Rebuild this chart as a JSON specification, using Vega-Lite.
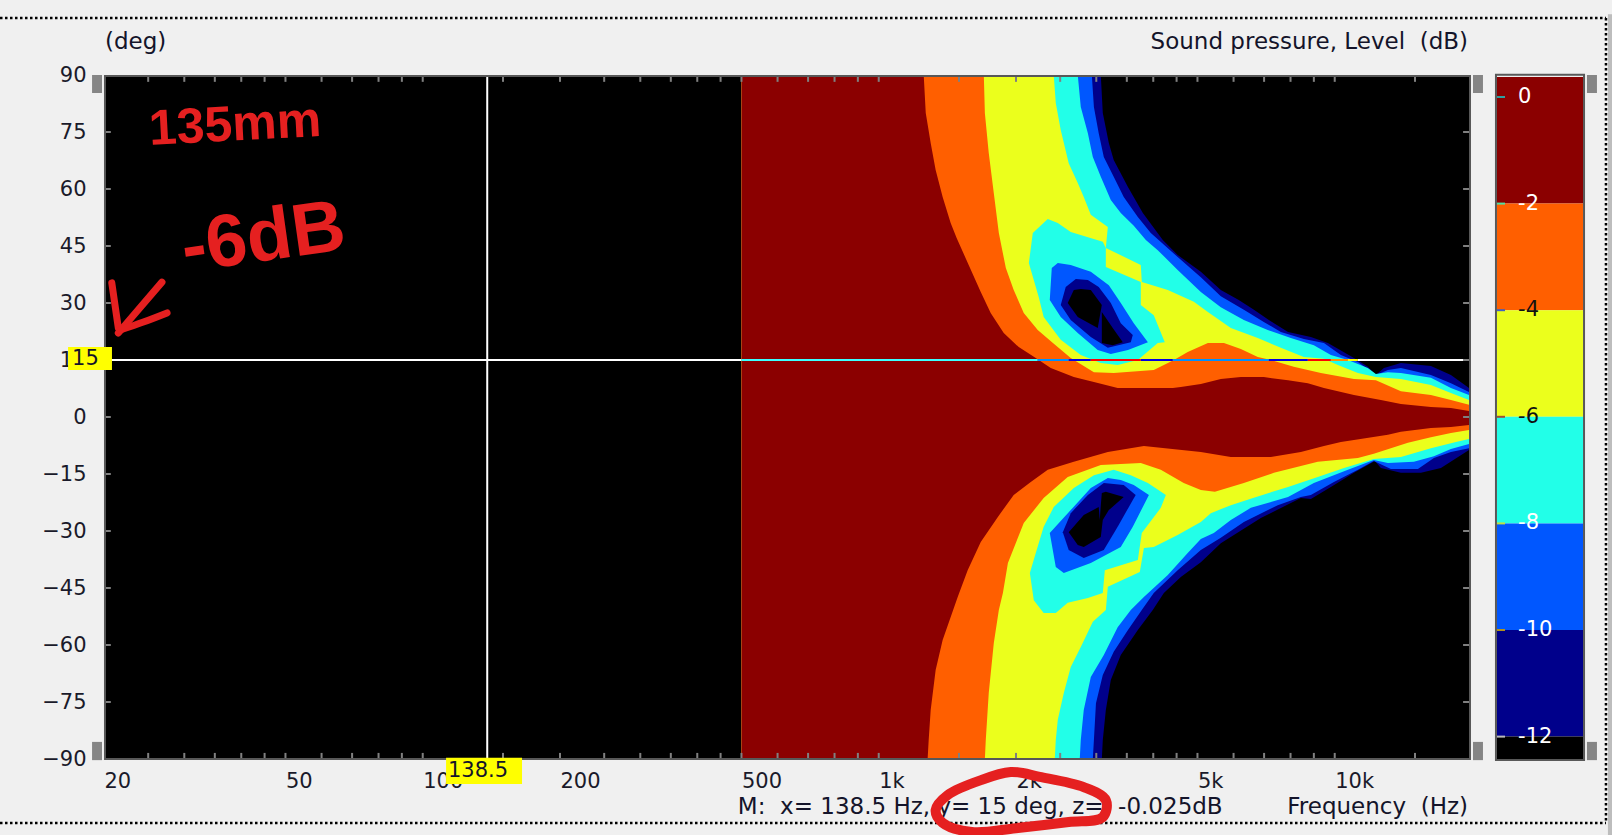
{"$schema":"https://vega.github.io/schema/vega-lite/v6.json","width":1365,"height":684,"padding":{"left":104,"top":75,"right":143,"bottom":76},"autosize":{"type":"none"},"background":"#f0f0f0","config":{"view":{"stroke":null},"font":"DejaVu Sans"},
"datasets":{
"poly":[
{"p":"navy","l":-12,"f":500,"d":90},{"p":"navy","l":-12,"f":3069,"d":90},{"p":"navy","l":-12,"f":3100,"d":80},{"p":"navy","l":-12,"f":3196,"d":72.1},{"p":"navy","l":-12,"f":3276,"d":67.6},{"p":"navy","l":-12,"f":3520,"d":60.5},{"p":"navy","l":-12,"f":3795,"d":53.7},{"p":"navy","l":-12,"f":4197,"d":46.6},{"p":"navy","l":-12,"f":4525,"d":42.6},{"p":"navy","l":-12,"f":5086,"d":38.2},{"p":"navy","l":-12,"f":5626,"d":33.4},{"p":"navy","l":-12,"f":6160,"d":30.8},{"p":"navy","l":-12,"f":6650,"d":28.2},{"p":"navy","l":-12,"f":7170,"d":25.5},{"p":"navy","l":-12,"f":7900,"d":22.4},{"p":"navy","l":-12,"f":8865,"d":21.05},{"p":"navy","l":-12,"f":9660,"d":19.5},{"p":"navy","l":-12,"f":11020,"d":15.5},{"p":"navy","l":-12,"f":11820,"d":13.2},{"p":"navy","l":-12,"f":12310,"d":11.05},{"p":"navy","l":-12,"f":12820,"d":12.9},{"p":"navy","l":-12,"f":13967,"d":14.2},{"p":"navy","l":-12,"f":16253,"d":13.4},{"p":"navy","l":-12,"f":17981,"d":11.05},{"p":"navy","l":-12,"f":19700,"d":7.6},{"p":"navy","l":-12,"f":19700,"d":-8.7},{"p":"navy","l":-12,"f":17095,"d":-13.4},{"p":"navy","l":-12,"f":15452,"d":-14.7},{"p":"navy","l":-12,"f":13967,"d":-14.7},{"p":"navy","l":-12,"f":12625,"d":-13.4},{"p":"navy","l":-12,"f":12250,"d":-11.6},{"p":"navy","l":-12,"f":11020,"d":-14.7},{"p":"navy","l":-12,"f":9807,"d":-18.4},{"p":"navy","l":-12,"f":8865,"d":-21.6},{"p":"navy","l":-12,"f":8428,"d":-21.3},{"p":"navy","l":-12,"f":6886,"d":-26.6},{"p":"navy","l":-12,"f":5626,"d":-33.2},{"p":"navy","l":-12,"f":5086,"d":-38.2},{"p":"navy","l":-12,"f":4597,"d":-42.1},{"p":"navy","l":-12,"f":4220,"d":-46.3},{"p":"navy","l":-12,"f":3990,"d":-50.8},{"p":"navy","l":-12,"f":3700,"d":-56.05},{"p":"navy","l":-12,"f":3395,"d":-62.6},{"p":"navy","l":-12,"f":3228,"d":-69.2},{"p":"navy","l":-12,"f":3148,"d":-77.1},{"p":"navy","l":-12,"f":3100,"d":-85},{"p":"navy","l":-12,"f":3085,"d":-90},{"p":"navy","l":-12,"f":500,"d":-90},
{"p":"blue","l":-10,"f":500,"d":90},{"p":"blue","l":-10,"f":2933,"d":90},{"p":"blue","l":-10,"f":2964,"d":81.6},{"p":"blue","l":-10,"f":3037,"d":74.7},{"p":"blue","l":-10,"f":3116,"d":68.4},{"p":"blue","l":-10,"f":3276,"d":63.2},{"p":"blue","l":-10,"f":3446,"d":57.9},{"p":"blue","l":-10,"f":3700,"d":52.6},{"p":"blue","l":-10,"f":3951,"d":48.4},{"p":"blue","l":-10,"f":4525,"d":42.1},{"p":"blue","l":-10,"f":5086,"d":36.8},{"p":"blue","l":-10,"f":5626,"d":31.8},{"p":"blue","l":-10,"f":6320,"d":28.2},{"p":"blue","l":-10,"f":6990,"d":25},{"p":"blue","l":-10,"f":7618,"d":22.4},{"p":"blue","l":-10,"f":8560,"d":20.5},{"p":"blue","l":-10,"f":9470,"d":19.5},{"p":"blue","l":-10,"f":10315,"d":16.3},{"p":"blue","l":-10,"f":11240,"d":14.5},{"p":"blue","l":-10,"f":12310,"d":11.05},{"p":"blue","l":-10,"f":13080,"d":12.4},{"p":"blue","l":-10,"f":13967,"d":12.9},{"p":"blue","l":-10,"f":16253,"d":11.05},{"p":"blue","l":-10,"f":17981,"d":8.9},{"p":"blue","l":-10,"f":19700,"d":6.6},{"p":"blue","l":-10,"f":19700,"d":-8.2},{"p":"blue","l":-10,"f":17981,"d":-9.2},{"p":"blue","l":-10,"f":16500,"d":-10.8},{"p":"blue","l":-10,"f":15220,"d":-13.7},{"p":"blue","l":-10,"f":13279,"d":-13.7},{"p":"blue","l":-10,"f":12180,"d":-11.6},{"p":"blue","l":-10,"f":11240,"d":-13.9},{"p":"blue","l":-10,"f":9960,"d":-17.1},{"p":"blue","l":-10,"f":8865,"d":-20.5},{"p":"blue","l":-10,"f":8428,"d":-21.05},{"p":"blue","l":-10,"f":7500,"d":-23.2},{"p":"blue","l":-10,"f":6320,"d":-27.6},{"p":"blue","l":-10,"f":5626,"d":-31.8},{"p":"blue","l":-10,"f":5086,"d":-35},{"p":"blue","l":-10,"f":4525,"d":-40.3},{"p":"blue","l":-10,"f":4010,"d":-46.3},{"p":"blue","l":-10,"f":3775,"d":-50.8},{"p":"blue","l":-10,"f":3520,"d":-56.05},{"p":"blue","l":-10,"f":3276,"d":-61.8},{"p":"blue","l":-10,"f":3100,"d":-67.9},{"p":"blue","l":-10,"f":2995,"d":-75.3},{"p":"blue","l":-10,"f":2964,"d":-85},{"p":"blue","l":-10,"f":2948,"d":-90},{"p":"blue","l":-10,"f":500,"d":-90},
{"p":"cyan","l":-8,"f":500,"d":90},{"p":"cyan","l":-8,"f":2732,"d":90},{"p":"cyan","l":-8,"f":2774,"d":81.6},{"p":"cyan","l":-8,"f":2875,"d":74.7},{"p":"cyan","l":-8,"f":2948,"d":68.4},{"p":"cyan","l":-8,"f":3069,"d":63.2},{"p":"cyan","l":-8,"f":3228,"d":57.1},{"p":"cyan","l":-8,"f":3395,"d":53.7},{"p":"cyan","l":-8,"f":3625,"d":50.3},{"p":"cyan","l":-8,"f":3853,"d":46.6},{"p":"cyan","l":-8,"f":4092,"d":43.9},{"p":"cyan","l":-8,"f":4525,"d":38.7},{"p":"cyan","l":-8,"f":5086,"d":32.9},{"p":"cyan","l":-8,"f":5626,"d":28.9},{"p":"cyan","l":-8,"f":6320,"d":25.5},{"p":"cyan","l":-8,"f":7130,"d":22.9},{"p":"cyan","l":-8,"f":8013,"d":20.8},{"p":"cyan","l":-8,"f":9000,"d":18.9},{"p":"cyan","l":-8,"f":9807,"d":16.3},{"p":"cyan","l":-8,"f":10690,"d":15},{"p":"cyan","l":-8,"f":11820,"d":12.9},{"p":"cyan","l":-8,"f":12310,"d":11.3},{"p":"cyan","l":-8,"f":13080,"d":11.8},{"p":"cyan","l":-8,"f":13967,"d":11.6},{"p":"cyan","l":-8,"f":16253,"d":10.3},{"p":"cyan","l":-8,"f":17981,"d":7.6},{"p":"cyan","l":-8,"f":19700,"d":5.8},{"p":"cyan","l":-8,"f":19700,"d":-7.1},{"p":"cyan","l":-8,"f":17981,"d":-8.4},{"p":"cyan","l":-8,"f":16500,"d":-10.3},{"p":"cyan","l":-8,"f":14910,"d":-11.8},{"p":"cyan","l":-8,"f":13080,"d":-12.1},{"p":"cyan","l":-8,"f":12180,"d":-11.3},{"p":"cyan","l":-8,"f":10690,"d":-13.9},{"p":"cyan","l":-8,"f":9000,"d":-17.4},{"p":"cyan","l":-8,"f":7900,"d":-21.05},{"p":"cyan","l":-8,"f":6547,"d":-23.9},{"p":"cyan","l":-8,"f":5918,"d":-27.1},{"p":"cyan","l":-8,"f":5430,"d":-30.5},{"p":"cyan","l":-8,"f":5086,"d":-32.1},{"p":"cyan","l":-8,"f":4760,"d":-35.8},{"p":"cyan","l":-8,"f":4305,"d":-41.6},{"p":"cyan","l":-8,"f":3815,"d":-47.4},{"p":"cyan","l":-8,"f":3571,"d":-50.8},{"p":"cyan","l":-8,"f":3342,"d":-55.3},{"p":"cyan","l":-8,"f":3116,"d":-62.6},{"p":"cyan","l":-8,"f":2918,"d":-68.4},{"p":"cyan","l":-8,"f":2816,"d":-77.1},{"p":"cyan","l":-8,"f":2774,"d":-85},{"p":"cyan","l":-8,"f":2760,"d":-90},{"p":"cyan","l":-8,"f":500,"d":-90},
{"p":"yellow","l":-6,"f":500,"d":90},{"p":"yellow","l":-6,"f":2420,"d":90},{"p":"yellow","l":-6,"f":2445,"d":82.6},{"p":"yellow","l":-6,"f":2507,"d":75.5},{"p":"yellow","l":-6,"f":2610,"d":66.8},{"p":"yellow","l":-6,"f":2732,"d":61.6},{"p":"yellow","l":-6,"f":2816,"d":57.9},{"p":"yellow","l":-6,"f":2918,"d":53.2},{"p":"yellow","l":-6,"f":3180,"d":50},{"p":"yellow","l":-6,"f":3148,"d":44.5},{"p":"yellow","l":-6,"f":3756,"d":40},{"p":"yellow","l":-6,"f":3775,"d":35.5},{"p":"yellow","l":-6,"f":4305,"d":33.4},{"p":"yellow","l":-6,"f":4910,"d":30.3},{"p":"yellow","l":-6,"f":5270,"d":27.6},{"p":"yellow","l":-6,"f":5918,"d":23.4},{"p":"yellow","l":-6,"f":6780,"d":20.8},{"p":"yellow","l":-6,"f":7618,"d":18.2},{"p":"yellow","l":-6,"f":8560,"d":15.8},{"p":"yellow","l":-6,"f":9470,"d":15.3},{"p":"yellow","l":-6,"f":10160,"d":13.7},{"p":"yellow","l":-6,"f":11240,"d":11.6},{"p":"yellow","l":-6,"f":12310,"d":10.5},{"p":"yellow","l":-6,"f":13967,"d":10},{"p":"yellow","l":-6,"f":16253,"d":8.4},{"p":"yellow","l":-6,"f":17981,"d":6.3},{"p":"yellow","l":-6,"f":19700,"d":4.5},{"p":"yellow","l":-6,"f":19700,"d":-5.8},{"p":"yellow","l":-6,"f":18440,"d":-6.6},{"p":"yellow","l":-6,"f":16253,"d":-8.2},{"p":"yellow","l":-6,"f":13967,"d":-10.5},{"p":"yellow","l":-6,"f":12180,"d":-11.05},{"p":"yellow","l":-6,"f":10480,"d":-13.4},{"p":"yellow","l":-6,"f":9180,"d":-15.8},{"p":"yellow","l":-6,"f":7900,"d":-18.4},{"p":"yellow","l":-6,"f":6620,"d":-21.3},{"p":"yellow","l":-6,"f":5918,"d":-23.2},{"p":"yellow","l":-6,"f":5349,"d":-25.3},{"p":"yellow","l":-6,"f":5086,"d":-27.6},{"p":"yellow","l":-6,"f":4525,"d":-31.05},{"p":"yellow","l":-6,"f":4010,"d":-34.2},{"p":"yellow","l":-6,"f":3815,"d":-34.5},{"p":"yellow","l":-6,"f":3737,"d":-40.8},{"p":"yellow","l":-6,"f":3180,"d":-44.7},{"p":"yellow","l":-6,"f":3148,"d":-50.8},{"p":"yellow","l":-6,"f":2948,"d":-53.9},{"p":"yellow","l":-6,"f":2774,"d":-60.5},{"p":"yellow","l":-6,"f":2637,"d":-65.8},{"p":"yellow","l":-6,"f":2546,"d":-72.6},{"p":"yellow","l":-6,"f":2470,"d":-79.7},{"p":"yellow","l":-6,"f":2445,"d":-85},{"p":"yellow","l":-6,"f":2433,"d":-90},{"p":"yellow","l":-6,"f":500,"d":-90},
{"p":"orange","l":-4,"f":500,"d":90},{"p":"orange","l":-4,"f":1700,"d":90},{"p":"orange","l":-4,"f":1709,"d":80},{"p":"orange","l":-4,"f":1743,"d":69.5},{"p":"orange","l":-4,"f":1788,"d":58.9},{"p":"orange","l":-4,"f":1834,"d":48.4},{"p":"orange","l":-4,"f":1900,"d":39.2},{"p":"orange","l":-4,"f":1977,"d":33.4},{"p":"orange","l":-4,"f":2080,"d":27.4},{"p":"orange","l":-4,"f":2232,"d":22.9},{"p":"orange","l":-4,"f":2410,"d":19.5},{"p":"orange","l":-4,"f":2637,"d":15.5},{"p":"orange","l":-4,"f":2964,"d":11.8},{"p":"orange","l":-4,"f":3276,"d":11.6},{"p":"orange","l":-4,"f":4010,"d":12.4},{"p":"orange","l":-4,"f":4440,"d":15},{"p":"orange","l":-4,"f":4760,"d":17.1},{"p":"orange","l":-4,"f":5270,"d":19.5},{"p":"orange","l":-4,"f":5715,"d":19.5},{"p":"orange","l":-4,"f":6225,"d":17.9},{"p":"orange","l":-4,"f":6780,"d":15.8},{"p":"orange","l":-4,"f":7243,"d":15},{"p":"orange","l":-4,"f":8130,"d":13.2},{"p":"orange","l":-4,"f":9324,"d":11.6},{"p":"orange","l":-4,"f":11020,"d":10},{"p":"orange","l":-4,"f":12310,"d":9.7},{"p":"orange","l":-4,"f":13967,"d":6.8},{"p":"orange","l":-4,"f":16253,"d":5.8},{"p":"orange","l":-4,"f":17981,"d":4.5},{"p":"orange","l":-4,"f":19700,"d":3.2},{"p":"orange","l":-4,"f":19700,"d":-3.4},{"p":"orange","l":-4,"f":17981,"d":-4.2},{"p":"orange","l":-4,"f":16253,"d":-5.3},{"p":"orange","l":-4,"f":14470,"d":-6.8},{"p":"orange","l":-4,"f":12180,"d":-9.7},{"p":"orange","l":-4,"f":11240,"d":-10.8},{"p":"orange","l":-4,"f":9180,"d":-11.8},{"p":"orange","l":-4,"f":7355,"d":-14.7},{"p":"orange","l":-4,"f":6320,"d":-17.4},{"p":"orange","l":-4,"f":5460,"d":-19.7},{"p":"orange","l":-4,"f":5086,"d":-19.2},{"p":"orange","l":-4,"f":4665,"d":-17.4},{"p":"orange","l":-4,"f":4155,"d":-13.9},{"p":"orange","l":-4,"f":3756,"d":-12.1},{"p":"orange","l":-4,"f":3069,"d":-12.6},{"p":"orange","l":-4,"f":2597,"d":-15.8},{"p":"orange","l":-4,"f":2300,"d":-21.3},{"p":"orange","l":-4,"f":2080,"d":-27.9},{"p":"orange","l":-4,"f":1920,"d":-38.4},{"p":"orange","l":-4,"f":1872,"d":-46.3},{"p":"orange","l":-4,"f":1834,"d":-50.8},{"p":"orange","l":-4,"f":1788,"d":-59.5},{"p":"orange","l":-4,"f":1743,"d":-72.6},{"p":"orange","l":-4,"f":1717,"d":-85},{"p":"orange","l":-4,"f":1709,"d":-90},{"p":"orange","l":-4,"f":500,"d":-90},
{"p":"red","l":-2,"f":500,"d":90},{"p":"red","l":-2,"f":1255,"d":90},{"p":"red","l":-2,"f":1268,"d":80},{"p":"red","l":-2,"f":1300,"d":72.1},{"p":"red","l":-2,"f":1333,"d":65},{"p":"red","l":-2,"f":1381,"d":57.9},{"p":"red","l":-2,"f":1438,"d":51.05},{"p":"red","l":-2,"f":1482,"d":47.1},{"p":"red","l":-2,"f":1575,"d":40},{"p":"red","l":-2,"f":1674,"d":32.9},{"p":"red","l":-2,"f":1760,"d":27.4},{"p":"red","l":-2,"f":1880,"d":22.1},{"p":"red","l":-2,"f":2028,"d":18.4},{"p":"red","l":-2,"f":2210,"d":15.5},{"p":"red","l":-2,"f":2384,"d":12.9},{"p":"red","l":-2,"f":2678,"d":10.5},{"p":"red","l":-2,"f":2964,"d":9.2},{"p":"red","l":-2,"f":3342,"d":7.6},{"p":"red","l":-2,"f":4416,"d":7.6},{"p":"red","l":-2,"f":4597,"d":7.9},{"p":"red","l":-2,"f":5086,"d":8.7},{"p":"red","l":-2,"f":5626,"d":10},{"p":"red","l":-2,"f":6225,"d":10.5},{"p":"red","l":-2,"f":6990,"d":10.5},{"p":"red","l":-2,"f":7900,"d":9.7},{"p":"red","l":-2,"f":8730,"d":8.9},{"p":"red","l":-2,"f":9470,"d":7.6},{"p":"red","l":-2,"f":11020,"d":5.8},{"p":"red","l":-2,"f":12625,"d":4.5},{"p":"red","l":-2,"f":13967,"d":3.4},{"p":"red","l":-2,"f":16253,"d":2.6},{"p":"red","l":-2,"f":17981,"d":2.4},{"p":"red","l":-2,"f":19700,"d":1.6},{"p":"red","l":-2,"f":19700,"d":-2.1},{"p":"red","l":-2,"f":17981,"d":-2.6},{"p":"red","l":-2,"f":16253,"d":-2.9},{"p":"red","l":-2,"f":13967,"d":-3.9},{"p":"red","l":-2,"f":13080,"d":-4.7},{"p":"red","l":-2,"f":11020,"d":-6.05},{"p":"red","l":-2,"f":10315,"d":-6.6},{"p":"red","l":-2,"f":9470,"d":-7.6},{"p":"red","l":-2,"f":8428,"d":-9.2},{"p":"red","l":-2,"f":7243,"d":-10.5},{"p":"red","l":-2,"f":5918,"d":-10.5},{"p":"red","l":-2,"f":5086,"d":-9.2},{"p":"red","l":-2,"f":3815,"d":-7.6},{"p":"red","l":-2,"f":3180,"d":-9.2},{"p":"red","l":-2,"f":2678,"d":-11.8},{"p":"red","l":-2,"f":2348,"d":-13.9},{"p":"red","l":-2,"f":2155,"d":-17.1},{"p":"red","l":-2,"f":1977,"d":-20.5},{"p":"red","l":-2,"f":1825,"d":-26.3},{"p":"red","l":-2,"f":1674,"d":-32.9},{"p":"red","l":-2,"f":1567,"d":-40.3},{"p":"red","l":-2,"f":1490,"d":-47.4},{"p":"red","l":-2,"f":1381,"d":-58.7},{"p":"red","l":-2,"f":1333,"d":-66.6},{"p":"red","l":-2,"f":1300,"d":-77.1},{"p":"red","l":-2,"f":1287,"d":-85},{"p":"red","l":-2,"f":1280,"d":-90},{"p":"red","l":-2,"f":500,"d":-90},
{"p":"cyanU","l":-8,"f":2348,"d":52.1},{"p":"cyanU","l":-8,"f":2177,"d":48.4},{"p":"cyanU","l":-8,"f":2134,"d":40.5},{"p":"cyanU","l":-8,"f":2243,"d":31.6},{"p":"cyanU","l":-8,"f":2300,"d":26.3},{"p":"cyanU","l":-8,"f":2507,"d":20.3},{"p":"cyanU","l":-8,"f":2774,"d":16.3},{"p":"cyanU","l":-8,"f":3069,"d":14.2},{"p":"cyanU","l":-8,"f":3342,"d":13.7},{"p":"cyanU","l":-8,"f":3700,"d":15},{"p":"cyanU","l":-8,"f":4092,"d":19.5},{"p":"cyanU","l":-8,"f":4240,"d":19.7},{"p":"cyanU","l":-8,"f":4010,"d":26.8},{"p":"cyanU","l":-8,"f":3756,"d":29.5},{"p":"cyanU","l":-8,"f":3756,"d":35.5},{"p":"cyanU","l":-8,"f":3148,"d":39.5},{"p":"cyanU","l":-8,"f":3148,"d":44.5},{"p":"cyanU","l":-8,"f":3100,"d":46.1},{"p":"cyanU","l":-8,"f":2637,"d":48.7},{"p":"cyanU","l":-8,"f":2470,"d":51.05},
{"p":"blueU","l":-10,"f":2470,"d":40.5},{"p":"blueU","l":-10,"f":2396,"d":39.2},{"p":"blueU","l":-10,"f":2372,"d":30.8},{"p":"blueU","l":-10,"f":2507,"d":26.3},{"p":"blueU","l":-10,"f":2732,"d":22.1},{"p":"blueU","l":-10,"f":3022,"d":17.6},{"p":"blueU","l":-10,"f":3228,"d":16.6},{"p":"blueU","l":-10,"f":3520,"d":17.6},{"p":"blueU","l":-10,"f":3893,"d":19.7},{"p":"blueU","l":-10,"f":3625,"d":24.7},{"p":"blueU","l":-10,"f":3395,"d":30},{"p":"blueU","l":-10,"f":3196,"d":34.7},{"p":"blueU","l":-10,"f":2918,"d":38.2},{"p":"blueU","l":-10,"f":2637,"d":40},
{"p":"navyU","l":-12,"f":2705,"d":36.3},{"p":"navyU","l":-12,"f":2571,"d":34.2},{"p":"navyU","l":-12,"f":2507,"d":29.5},{"p":"navyU","l":-12,"f":2637,"d":25.5},{"p":"navyU","l":-12,"f":2918,"d":21.05},{"p":"navyU","l":-12,"f":3180,"d":18.2},{"p":"navyU","l":-12,"f":3571,"d":19.7},{"p":"navyU","l":-12,"f":3607,"d":21.6},{"p":"navyU","l":-12,"f":3395,"d":24.7},{"p":"navyU","l":-12,"f":3228,"d":30},{"p":"navyU","l":-12,"f":3037,"d":34.2},{"p":"navyU","l":-12,"f":2875,"d":36.05},
{"p":"blackUa","l":-14,"f":2678,"d":33.4},{"p":"blackUa","l":-14,"f":2597,"d":30},{"p":"blackUa","l":-14,"f":2732,"d":26.3},{"p":"blackUa","l":-14,"f":3022,"d":23.4},{"p":"blackUa","l":-14,"f":3085,"d":29.5},{"p":"blackUa","l":-14,"f":2918,"d":33.4},{"p":"blackUa","l":-14,"f":2774,"d":33.7},
{"p":"blackUb","l":-14,"f":3085,"d":27.6},{"p":"blackUb","l":-14,"f":3085,"d":19.5},{"p":"blackUb","l":-14,"f":3260,"d":18.9},{"p":"blackUb","l":-14,"f":3430,"d":19.7},{"p":"blackUb","l":-14,"f":3260,"d":23.4},
{"p":"cyanL","l":-8,"f":3276,"d":-13.9},{"p":"cyanL","l":-8,"f":2964,"d":-15.3},{"p":"cyanL","l":-8,"f":2678,"d":-18.7},{"p":"cyanL","l":-8,"f":2420,"d":-23.7},{"p":"cyanL","l":-8,"f":2300,"d":-28.9},{"p":"cyanL","l":-8,"f":2210,"d":-35.8},{"p":"cyanL","l":-8,"f":2145,"d":-41.05},{"p":"cyanL","l":-8,"f":2188,"d":-48.2},{"p":"cyanL","l":-8,"f":2300,"d":-51.6},{"p":"cyanL","l":-8,"f":2445,"d":-51.6},{"p":"cyanL","l":-8,"f":2597,"d":-48.9},{"p":"cyanL","l":-8,"f":2875,"d":-47.6},{"p":"cyanL","l":-8,"f":3100,"d":-46.3},{"p":"cyanL","l":-8,"f":3132,"d":-40.3},{"p":"cyanL","l":-8,"f":3700,"d":-37.6},{"p":"cyanL","l":-8,"f":3775,"d":-30.5},{"p":"cyanL","l":-8,"f":4155,"d":-23.9},{"p":"cyanL","l":-8,"f":4263,"d":-20.5},{"p":"cyanL","l":-8,"f":3893,"d":-17.4},{"p":"cyanL","l":-8,"f":3571,"d":-15.3},
{"p":"blueL","l":-10,"f":3180,"d":-16.05},{"p":"blueL","l":-10,"f":2918,"d":-18.7},{"p":"blueL","l":-10,"f":2637,"d":-24.5},{"p":"blueL","l":-10,"f":2372,"d":-30.5},{"p":"blueL","l":-10,"f":2445,"d":-39.5},{"p":"blueL","l":-10,"f":2546,"d":-41.05},{"p":"blueL","l":-10,"f":2918,"d":-38.4},{"p":"blueL","l":-10,"f":3395,"d":-34.2},{"p":"blueL","l":-10,"f":3607,"d":-28.9},{"p":"blueL","l":-10,"f":3913,"d":-20.5},{"p":"blueL","l":-10,"f":3625,"d":-17.9},{"p":"blueL","l":-10,"f":3395,"d":-16.6},
{"p":"navyL","l":-12,"f":3116,"d":-17.4},{"p":"navyL","l":-12,"f":2875,"d":-20.5},{"p":"navyL","l":-12,"f":2637,"d":-25.3},{"p":"navyL","l":-12,"f":2533,"d":-30.3},{"p":"navyL","l":-12,"f":2610,"d":-35},{"p":"navyL","l":-12,"f":2816,"d":-37.1},{"p":"navyL","l":-12,"f":3116,"d":-35},{"p":"navyL","l":-12,"f":3342,"d":-28.9},{"p":"navyL","l":-12,"f":3660,"d":-20.5},{"p":"navyL","l":-12,"f":3446,"d":-17.9},
{"p":"blackL","l":-14,"f":3085,"d":-20},{"p":"blackL","l":-14,"f":3148,"d":-19.7},{"p":"blackL","l":-14,"f":3446,"d":-21.05},{"p":"blackL","l":-14,"f":3196,"d":-24.5},{"p":"blackL","l":-14,"f":3100,"d":-27.1},{"p":"blackL","l":-14,"f":3069,"d":-31.6},{"p":"blackL","l":-14,"f":2816,"d":-34.2},{"p":"blackL","l":-14,"f":2732,"d":-33.7},{"p":"blackL","l":-14,"f":2610,"d":-30.3},{"p":"blackL","l":-14,"f":2816,"d":-25.8},{"p":"blackL","l":-14,"f":3037,"d":-23.7},{"p":"blackL","l":-14,"f":3053,"d":-27.1},{"p":"blackL","l":-14,"f":3069,"d":-23.2}
],
"cross":[{"seg":"white","a":20,"b":500},{"seg":"cyan","a":500,"b":2232},{"seg":"sky","a":2232,"b":2610},{"seg":"blue","a":2610,"b":2918},{"seg":"red","a":2918,"b":3756},{"seg":"blue","a":3756,"b":4416},{"seg":"sky","a":4416,"b":7170},{"seg":"blue","a":7170,"b":8730},{"seg":"red","a":8730,"b":9807},{"seg":"amber","a":9807,"b":10690},{"seg":"yellow","a":10690,"b":11240},{"seg":"white","a":11240,"b":19200}],
"xt":[{"f":25},{"f":30},{"f":35},{"f":40},{"f":45},{"f":50},{"f":60},{"f":70},{"f":80},{"f":90},{"f":100},{"f":150},{"f":200},{"f":250},{"f":300},{"f":350},{"f":400},{"f":450},{"f":500},{"f":600},{"f":700},{"f":800},{"f":900},{"f":1000},{"f":1500},{"f":2000},{"f":2500},{"f":3000},{"f":3500},{"f":4000},{"f":4500},{"f":5000},{"f":6000},{"f":7000},{"f":8000},{"f":9000},{"f":10000},{"f":15000}],
"yt":[{"d":75},{"d":60},{"d":45},{"d":30},{"d":15},{"d":0},{"d":-15},{"d":-30},{"d":-45},{"d":-60},{"d":-75}],
"handles":[{"a":18.83,"b":19.8,"t":90,"u":85.26},{"a":18.83,"b":19.8,"t":-85.5,"u":-90.3},{"a":20100,"b":21140,"t":90,"u":85.26},{"a":20100,"b":21140,"t":-85.5,"u":-90.3},{"a":35740,"b":37590,"t":90,"u":85.26},{"a":35740,"b":37590,"t":-85.5,"u":-90.3}],
"strip":[{"a":39730,"b":40560,"t":106,"u":-110}],
"tags":[{"a":16.68,"b":20.82,"t":18.4,"u":12.4},{"a":112.5,"b":165.1,"t":-89.7,"u":-96.6}],
"leftlabels":[{"t":"(deg)","f":20.1,"d":98.7},{"t":"M:\u00a0 x= 138.5 Hz, y= 15 deg, z=\u00a0 -0.025dB","f":491,"d":-102.6}],
"rightlabels":[{"t":"Sound pressure, Level\u00a0 (dB)","f":19600,"d":98.7},{"t":"Frequency\u00a0 (Hz)","f":19600,"d":-102.6}],
"taglabels":[{"t":"15","f":17.02,"d":15.3},{"t":"138.5","f":113.6,"d":-93.2}],
"arrow":[{"s":"arrow1","f":26.8,"d":35.5},{"s":"arrow1","f":21.5,"d":22.1},{"s":"arrow2","f":20.8,"d":35.3},{"s":"arrow2","f":21.5,"d":23.4},{"s":"arrow3","f":27.5,"d":27.4},{"s":"arrow3","f":24.4,"d":25},{"s":"arrow3","f":21.7,"d":22.9}],
"oval":[{"f":1682,"d":-95.5},{"f":1948,"d":-93.4},{"f":2255,"d":-94.7},{"f":2816,"d":-97.4},{"f":3148,"d":-100.8},{"f":3100,"d":-105.3},{"f":2610,"d":-106.6},{"f":1998,"d":-108.2},{"f":1600,"d":-109.2},{"f":1381,"d":-106.8},{"f":1333,"d":-103.4},{"f":1416,"d":-99.5},{"f":1682,"d":-95.5}],
"notes":[{"t":"135mm","f":25.2,"d":71.6,"size":50,"ang":-3},{"t":"-6dB","f":30.1,"d":38.2,"size":74,"ang":-8}],
"bar":[{"l":-2,"a":0,"b":1,"top":0.375,"bot":-2},{"l":-4,"a":0,"b":1,"top":-2,"bot":-4},{"l":-6,"a":0,"b":1,"top":-4,"bot":-6},{"l":-8,"a":0,"b":1,"top":-6,"bot":-8},{"l":-10,"a":0,"b":1,"top":-8,"bot":-10},{"l":-12,"a":0,"b":1,"top":-10,"bot":-12},{"l":-14,"a":0,"b":1,"top":-12,"bot":-12.42}],
"barlab":[{"v":0,"t":"0","a":0,"b":0.093,"c":0.245},{"v":-2,"t":"-2","a":0,"b":0.093,"c":0.245},{"v":-4,"t":"-4","a":0,"b":0.093,"c":0.245},{"v":-6,"t":"-6","a":0,"b":0.093,"c":0.245},{"v":-8,"t":"-8","a":0,"b":0.093,"c":0.245},{"v":-10,"t":"-10","a":0,"b":0.093,"c":0.245},{"v":-12,"t":"-12","a":0,"b":0.093,"c":0.245}]
},
"resolve":{"scale":{"x":"independent","y":"independent","stroke":"independent"}},
"layer":[
{"layer":[
{"data":{"values":[{"a":20,"b":19700,"t":90,"u":-90}]},"mark":{"type":"rect","fill":"#000000"},"encoding":{
"x":{"field":"a","type":"quantitative","title":null,"scale":{"type":"log","domain":[20,19700],"nice":false},"axis":{"values":[20,50,100,200,500,1000,2000,5000,10000],"labelExpr":"datum.value>=1000 ? (datum.value/1000)+'k' : ''+datum.value","labelAlign":"left","labelBaseline":"top","labelPadding":11,"labelFontSize":21,"labelColor":"#1a1a2a","labelFont":"DejaVu Sans","domain":false,"ticks":false,"grid":false,"labelOverlap":false,"labelFlush":false,"labelBound":false,"title":null}},
"x2":{"field":"b"},
"y":{"field":"t","type":"quantitative","title":null,"scale":{"domain":[-90,90],"nice":false,"zero":false},"axis":{"values":[90,75,60,45,30,15,0,-15,-30,-45,-60,-75,-90],"labelPadding":18,"labelFontSize":21,"labelColor":"#1a1a2a","labelFont":"DejaVu Sans","domain":false,"ticks":false,"grid":false,"labelOverlap":false,"labelFlush":false,"labelBound":false,"title":null}},
"y2":{"field":"u"}}},
{"data":{"name":"poly"},"transform":[{"window":[{"op":"row_number","as":"o"}]}],"mark":{"type":"line","strokeWidth":0,"interpolate":"linear"},"encoding":{"x":{"field":"f","type":"quantitative"},"y":{"field":"d","type":"quantitative"},"detail":{"field":"p"},"order":{"field":"o","type":"quantitative"},"fill":{"field":"l","type":"nominal","legend":null,"scale":{"domain":[-2,-4,-6,-8,-10,-12,-14],"range":["#8b0000","#ff5f00","#ebff1c","#22ffe8","#0057ff","#00008b","#000000"]}}}},
{"data":{"name":"cross"},"mark":{"type":"rule","strokeWidth":2},"encoding":{"x":{"field":"a","type":"quantitative"},"x2":{"field":"b"},"y":{"datum":15},"stroke":{"field":"seg","type":"nominal","legend":null,"scale":{"domain":["white","cyan","sky","blue","red","amber","yellow"],"range":["#ffffff","#3cffff","#0090ff","#0000e0","#ff0000","#ff9000","#ffff00"]}}}},
{"data":{"values":[{"f":138.5}]},"mark":{"type":"rule","stroke":"#ffffff","strokeWidth":2},"encoding":{"x":{"field":"f","type":"quantitative"},"y":{"datum":90},"y2":{"datum":-90}}},
{"data":{"name":"xt"},"mark":{"type":"rule","stroke":"#808080","strokeWidth":2},"encoding":{"x":{"field":"f","type":"quantitative"},"y":{"datum":90},"y2":{"datum":88.2}}},
{"data":{"name":"xt"},"mark":{"type":"rule","stroke":"#808080","strokeWidth":2},"encoding":{"x":{"field":"f","type":"quantitative"},"y":{"datum":-90},"y2":{"datum":-88.4}}},
{"data":{"name":"yt"},"mark":{"type":"rule","stroke":"#808080","strokeWidth":2},"encoding":{"y":{"field":"d","type":"quantitative"},"x":{"datum":20},"x2":{"datum":20.7}}},
{"data":{"name":"yt"},"mark":{"type":"rule","stroke":"#808080","strokeWidth":2},"encoding":{"y":{"field":"d","type":"quantitative"},"x":{"datum":19120},"x2":{"datum":19700}}},
{"data":{"values":[{"a":20.1,"b":19800,"t":89.75,"u":-90}]},"mark":{"type":"rect","fillOpacity":0,"stroke":"#585858","strokeWidth":2},"encoding":{"x":{"field":"a","type":"quantitative"},"x2":{"field":"b"},"y":{"field":"t","type":"quantitative"},"y2":{"field":"u"}}},
{"data":{"name":"handles"},"mark":{"type":"rect","fill":"#858585"},"encoding":{"x":{"field":"a","type":"quantitative"},"x2":{"field":"b"},"y":{"field":"t","type":"quantitative"},"y2":{"field":"u"}}},
{"data":{"name":"strip"},"mark":{"type":"rect","fill":"#bdbdbd"},"encoding":{"x":{"field":"a","type":"quantitative"},"x2":{"field":"b"},"y":{"field":"t","type":"quantitative"},"y2":{"field":"u"}}},
{"data":{"name":"tags"},"mark":{"type":"rect","fill":"#ffff00"},"encoding":{"x":{"field":"a","type":"quantitative"},"x2":{"field":"b"},"y":{"field":"t","type":"quantitative"},"y2":{"field":"u"}}},
{"data":{"values":[{"y":105}]},"mark":{"type":"rule","stroke":"#000000","strokeWidth":2.5,"strokeDash":[2.5,2.5]},"encoding":{"y":{"field":"y","type":"quantitative"},"x":{"datum":11.83},"x2":{"datum":39340}}},
{"data":{"values":[{"y":-106.84}]},"mark":{"type":"rule","stroke":"#000000","strokeWidth":2.5,"strokeDash":[2.5,2.5]},"encoding":{"y":{"field":"y","type":"quantitative"},"x":{"datum":11.83},"x2":{"datum":39340}}},
{"data":{"values":[{"f":39340}]},"mark":{"type":"rule","stroke":"#000000","strokeWidth":2.5,"strokeDash":[2.5,2.5]},"encoding":{"x":{"field":"f","type":"quantitative"},"y":{"datum":105},"y2":{"datum":-106.84}}},
{"data":{"name":"leftlabels"},"mark":{"type":"text","fontSize":23,"font":"DejaVu Sans","baseline":"middle","align":"left","color":"#14142a"},"encoding":{"x":{"field":"f","type":"quantitative"},"y":{"field":"d","type":"quantitative"},"text":{"field":"t"}}},
{"data":{"name":"rightlabels"},"mark":{"type":"text","fontSize":23,"font":"DejaVu Sans","baseline":"middle","align":"right","color":"#14142a"},"encoding":{"x":{"field":"f","type":"quantitative"},"y":{"field":"d","type":"quantitative"},"text":{"field":"t"}}},
{"data":{"name":"taglabels"},"mark":{"type":"text","fontSize":21,"font":"DejaVu Sans","baseline":"middle","align":"left","color":"#14142a"},"encoding":{"x":{"field":"f","type":"quantitative"},"y":{"field":"d","type":"quantitative"},"text":{"field":"t"}}},
{"data":{"name":"arrow"},"transform":[{"window":[{"op":"row_number","as":"o"}]}],"mark":{"type":"line","stroke":"#e52020","strokeWidth":7,"strokeCap":"round","strokeJoin":"round","interpolate":"catmull-rom"},"encoding":{"x":{"field":"f","type":"quantitative"},"y":{"field":"d","type":"quantitative"},"detail":{"field":"s"},"order":{"field":"o","type":"quantitative"}}},
{"data":{"name":"oval"},"transform":[{"window":[{"op":"row_number","as":"o"}]}],"mark":{"type":"line","stroke":"#e52020","strokeWidth":10,"strokeCap":"round","strokeJoin":"round","interpolate":"catmull-rom"},"encoding":{"x":{"field":"f","type":"quantitative"},"y":{"field":"d","type":"quantitative"},"order":{"field":"o","type":"quantitative"}}},
{"data":{"name":"notes"},"mark":{"type":"text","font":"Liberation Sans","fontWeight":"bold","align":"left","baseline":"alphabetic","color":"#e52020"},"encoding":{"x":{"field":"f","type":"quantitative"},"y":{"field":"d","type":"quantitative"},"text":{"field":"t"},"size":{"field":"size","type":"quantitative","scale":null},"angle":{"field":"ang","type":"quantitative","scale":null}}}
]},
{"layer":[
{"data":{"name":"bar"},"mark":{"type":"rect"},"encoding":{
"x":{"field":"a","type":"quantitative","axis":null,"scale":{"domain":[0,1],"range":[1393,1479]}},"x2":{"field":"b"},
"y":{"field":"top","type":"quantitative","axis":null,"scale":{"domain":[-12.42,0.375],"range":[684,2],"nice":false,"zero":false}},"y2":{"field":"bot"},
"fill":{"field":"l","type":"nominal","legend":null}}},
{"data":{"name":"barlab"},"mark":{"type":"rule","strokeWidth":2},"encoding":{"x":{"field":"a","type":"quantitative"},"x2":{"field":"b"},"y":{"field":"v","type":"quantitative"},"stroke":{"field":"t","type":"nominal","legend":null,"scale":{"domain":["0","-2","-4","-6","-8","-10","-12"],"range":["#2ca0a0","#50e0a0","#4060c0","#a05030","#c0e040","#b09020","#bbbbbb"]}}}},
{"data":{"name":"barlab"},"mark":{"type":"text","fontSize":21,"font":"DejaVu Sans","align":"left","baseline":"middle"},"encoding":{"x":{"field":"c","type":"quantitative"},"y":{"field":"v","type":"quantitative"},"text":{"field":"t"},"color":{"condition":{"test":"datum.v==-4||datum.v==-6","value":"#111111"},"value":"#ffffff"}}},
{"data":{"values":[{"a":-0.012,"b":1.012,"t":0.415,"u":-12.44}]},"mark":{"type":"rect","fillOpacity":0,"stroke":"#585858","strokeWidth":2},"encoding":{"x":{"field":"a","type":"quantitative"},"x2":{"field":"b"},"y":{"field":"t","type":"quantitative"},"y2":{"field":"u"}}}
]}
]}
